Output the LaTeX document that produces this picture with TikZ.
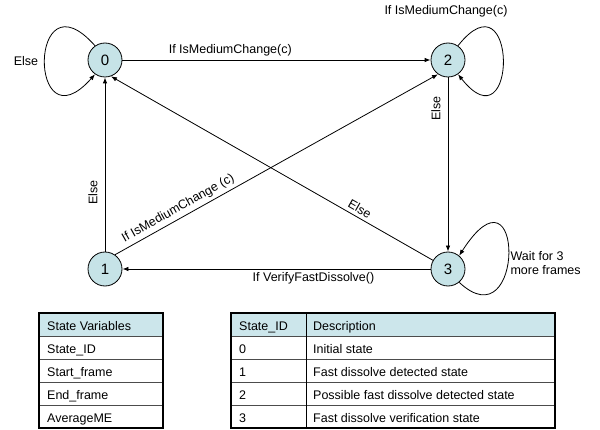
\documentclass[tikz,border=0pt]{standalone}
\usepackage{fontspec}
\setmainfont{Liberation Sans}
\usetikzlibrary{arrows.meta,positioning}

\definecolor{estadofill}{RGB}{198,227,231}
\definecolor{cabecera}{RGB}{204,230,235}

\tikzset{
  stnode/.style={circle, draw, line width=0.8pt, fill=estadofill, minimum size=34pt, inner sep=0pt,
                 font=\fontsize{15}{18}\selectfont},
  trans/.style={draw, line width=0.8pt, -{Latex[length=6pt,width=4.5pt]}},
  lbl/.style={font=\fontsize{12.5}{14}\selectfont},
  vlbl/.style={lbl, anchor=south, rotate=90, inner sep=7pt},
  cell/.style={anchor=base west, inner sep=0pt, font=\fontsize{12.5}{14}\selectfont}
}

\begin{document}
\begin{tikzpicture}[x=1pt, y=1pt]
    \useasboundingbox (0,0) rectangle (600,429);

    % estados
    \node[stnode] (s0) at (105,369) {0};
    \node[stnode] (s2) at (448,369) {2};
    \node[stnode] (s1) at (105,160) {1};
    \node[stnode] (s3) at (448,160) {3};

    % transiciones
    \draw[trans] (s0) -- node[lbl, pos=0.35, above] (l02) {If IsMediumChange(c)} (s2);
    \draw[trans] (s1) -- node[vlbl, pos=0.34] (l10) {Else} (s0);
    \draw[trans] (s2) -- node[vlbl, pos=0.18] (l23) {Else} (s3);
    \draw[trans] (s3) -- node[lbl, pos=0.38, below] (l31) {If VerifyFastDissolve()} (s1);
    \draw[trans] (s1.55) -- node[lbl, pos=0.21, sloped, above] (l12) {If IsMediumChange (c)} (s2.235);
    \draw[trans] (s3.150) -- node[lbl, pos=0.24, sloped, above] (l30) {Else} (s0.290);

    % bucles
    \draw[trans] (s0.125) .. controls (28,459) and (28,279) .. (s0.235);
    \node[lbl] (b0) at (26,368) {Else};
    \draw[trans] (s2.55) .. controls (518,459) and (518,279) .. (s2.-55);
    \node[lbl] (b2) at (446,418) {If IsMediumChange(c)};
    \draw[trans] (s3.-50) .. controls (525,85) and (525,276) .. (s3.50);
    \node[lbl, anchor=west, align=left] (b3) at (507,166) {Wait for 3\\more frames};

    % tablas
    \fill[cabecera] (39,93) rectangle (163,116);
    \fill[cabecera] (231,93) rectangle (555,116);
    \foreach \y in {93,70,47,24} {
        \draw[gray!60!black, line width=0.6pt] (39,\y) -- (163,\y);
        \draw[gray!60!black, line width=0.6pt] (231,\y) -- (555,\y);
    }
    \draw[line width=0.8pt] (306,1) -- (306,116);
    \draw[line width=1.6pt] (39,1) rectangle (163,116);
    \draw[line width=1.6pt] (231,1) rectangle (555,116);

    \foreach \t [count=\i] in {State Variables, State\_ID, Start\_frame, End\_frame, AverageME}
        \node[cell] (var\i) at (47,116-23*\i+5.5) {\t};
    \foreach \id/\desc [count=\i] in {State\_ID/Description, 0/Initial state, 1/Fast dissolve detected state,
                                      2/Possible fast dissolve detected state, 3/Fast dissolve verification state} {
        \node[cell] (id\i) at (239,116-23*\i+5.5) {\id};
        \node[cell] (desc\i) at (313,116-23*\i+5.5) {\desc};
    }
\end{tikzpicture}
\end{document}
